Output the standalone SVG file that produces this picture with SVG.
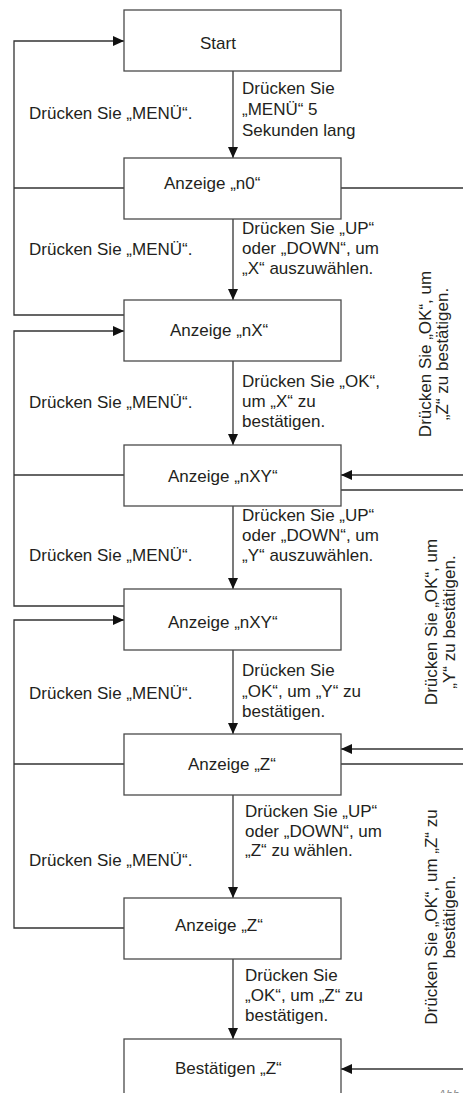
<svg xmlns="http://www.w3.org/2000/svg" width="463" height="1093" viewBox="0 0 463 1093">
<style>
text{font-family:"Liberation Sans",Arial,sans-serif;font-size:17px;fill:#231f20}
.c{text-anchor:middle}
.box{fill:#fff;stroke:#4a4a4a;stroke-width:1.3}
.ln{fill:none;stroke:#333;stroke-width:1.3}
.abb{font-size:12px;font-style:italic;fill:#888}
</style>
<defs>
<marker id="ah" markerWidth="11" markerHeight="10" refX="11" refY="5" orient="auto" markerUnits="userSpaceOnUse"><path d="M0,0 L11,5 L0,10 z" fill="#111"/></marker>
</defs>
<g id="connectors">
<line class="ln" x1="233" y1="71" x2="233" y2="158" marker-end="url(#ah)"/>
<line class="ln" x1="233" y1="219" x2="233" y2="300" marker-end="url(#ah)"/>
<line class="ln" x1="233" y1="361" x2="233" y2="445" marker-end="url(#ah)"/>
<line class="ln" x1="233" y1="506" x2="233" y2="589" marker-end="url(#ah)"/>
<line class="ln" x1="233" y1="650" x2="233" y2="734" marker-end="url(#ah)"/>
<line class="ln" x1="233" y1="795" x2="233" y2="898" marker-end="url(#ah)"/>
<line class="ln" x1="233" y1="959" x2="233" y2="1039" marker-end="url(#ah)"/>
<polyline class="ln" points="124,315 14,315 14,41 124,41" marker-end="url(#ah)"/>
<line class="ln" x1="124" y1="188" x2="14" y2="188"/>
<polyline class="ln" points="124,606 14,606 14,331 124,331" marker-end="url(#ah)"/>
<line class="ln" x1="124" y1="475" x2="14" y2="475"/>
<polyline class="ln" points="124,928 14,928 14,620 124,620" marker-end="url(#ah)"/>
<line class="ln" x1="124" y1="764" x2="14" y2="764"/>
<line class="ln" x1="341" y1="188" x2="463" y2="188"/>
<line class="ln" x1="463" y1="475" x2="341" y2="475" marker-end="url(#ah)"/>
<line class="ln" x1="341" y1="490" x2="463" y2="490"/>
<line class="ln" x1="463" y1="749" x2="341" y2="749" marker-end="url(#ah)"/>
<line class="ln" x1="341" y1="764" x2="463" y2="764"/>
<line class="ln" x1="463" y1="1069" x2="341" y2="1069" marker-end="url(#ah)"/>
</g>
<g id="node-start"><rect class="box" x="124" y="10" width="217" height="61"/><text x="200" y="49">Start</text></g>
<g id="node-n0"><rect class="box" x="124" y="158" width="217" height="61"/><text x="164" y="189">Anzeige „n0“</text></g>
<g id="node-nx"><rect class="box" x="124" y="300" width="217" height="61"/><text x="170" y="336">Anzeige „nX“</text></g>
<g id="node-nxy1"><rect class="box" x="124" y="445" width="217" height="61"/><text x="168" y="482">Anzeige „nXY“</text></g>
<g id="node-nxy2"><rect class="box" x="124" y="589" width="217" height="61"/><text x="168" y="628">Anzeige „nXY“</text></g>
<g id="node-z1"><rect class="box" x="124" y="734" width="217" height="61"/><text x="188" y="770">Anzeige „Z“</text></g>
<g id="node-z2"><rect class="box" x="124" y="898" width="217" height="61"/><text x="175" y="931">Anzeige „Z“</text></g>
<g id="node-confirm"><rect class="box" x="124" y="1039" width="217" height="61"/><text x="175" y="1074">Bestätigen „Z“</text></g>
<g id="labels-left">
<text x="29" y="119">Drücken Sie „MENÜ“.</text>
<text x="29" y="255">Drücken Sie „MENÜ“.</text>
<text x="29" y="408">Drücken Sie „MENÜ“.</text>
<text x="29" y="561">Drücken Sie „MENÜ“.</text>
<text x="29" y="699">Drücken Sie „MENÜ“.</text>
<text x="29" y="866">Drücken Sie „MENÜ“.</text>
</g>
<g id="labels-right">
<text x="242" y="94">Drücken Sie</text>
<text x="242" y="115">„MENÜ“ 5</text>
<text x="242" y="136">Sekunden lang</text>
<text x="242" y="234">Drücken Sie „UP“</text>
<text x="242" y="254">oder „DOWN“, um</text>
<text x="242" y="274">„X“ auszuwählen.</text>
<text x="242" y="387">Drücken Sie „OK“,</text>
<text x="242" y="407">um „X“ zu</text>
<text x="242" y="427">bestätigen.</text>
<text x="242" y="521">Drücken Sie „UP“</text>
<text x="242" y="541">oder „DOWN“, um</text>
<text x="242" y="561">„Y“ auszuwählen.</text>
<text x="242" y="676">Drücken Sie</text>
<text x="242" y="697">„OK“, um „Y“ zu</text>
<text x="242" y="717">bestätigen.</text>
<text x="245" y="817">Drücken Sie „UP“</text>
<text x="245" y="837">oder „DOWN“, um</text>
<text x="245" y="856">„Z“ zu wählen.</text>
<text x="245" y="981">Drücken Sie</text>
<text x="245" y="1001">„OK“, um „Z“ zu</text>
<text x="245" y="1021">bestätigen.</text>
</g>
<g id="labels-rotated">
<g transform="translate(0,354) rotate(-90)"><text class="c" x="0" y="431">Drücken Sie „OK“, um</text><text class="c" x="0" y="448">„Z“ zu bestätigen.</text></g>
<g transform="translate(0,622) rotate(-90)"><text class="c" x="0" y="437">Drücken Sie „OK“, um</text><text class="c" x="0" y="455">„Y“ zu bestätigen.</text></g>
<g transform="translate(0,917) rotate(-90)"><text class="c" x="0" y="437">Drücken Sie „OK“, um „Z“ zu</text><text class="c" x="0" y="455">bestätigen.</text></g>
</g>
<text class="abb" x="438" y="1099">Abb</text>
</svg>
